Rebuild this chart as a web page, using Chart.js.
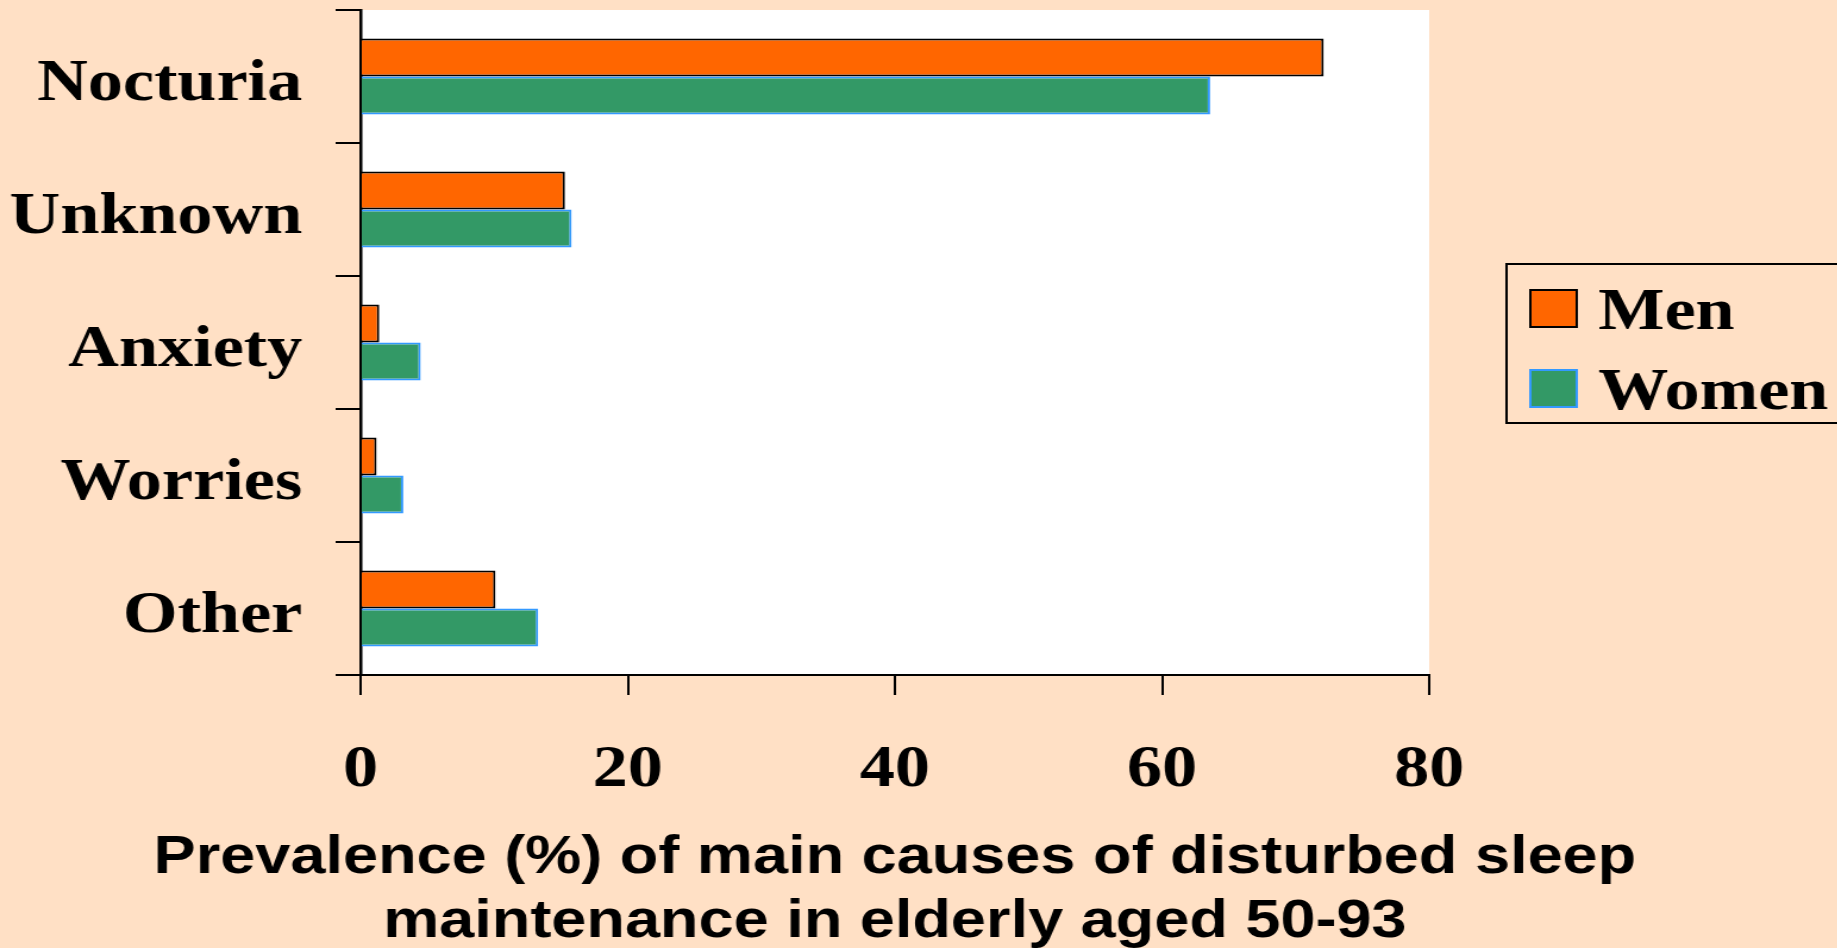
<!DOCTYPE html>
<html>
<head>
<meta charset="utf-8">
<script src="https://cdn.jsdelivr.net/npm/chart.js@4.4.0/dist/chart.umd.min.js"></script>
<style>
    html, body {
        margin: 0;
        padding: 0;
        background: #FFE0C5;
        overflow: hidden;
    }
    /* the source picture is stretched sideways, so the canvas is too */
    #chart {
        display: block;
        transform: scaleX(1.19);
        transform-origin: 0 0;
    }
</style>
</head>
<body>
<canvas id="chart" width="1544" height="948"></canvas>
<script>
// data
var categories = ["Nocturia", "Unknown", "Anxiety", "Worries", "Other"];
var menValues = [72.1, 15.3, 1.4, 1.2, 10.1];
var womenValues = [63.6, 15.8, 4.5, 3.2, 13.3];
var xTicks = [0, 20, 40, 60, 80];
var axisTitle = ["Prevalence (%) of main causes of disturbed sleep",
    "maintenance in elderly aged 50-93"];

var serif = "'Liberation Serif', 'Times New Roman', serif";

// white plot area
var plotBackground = {
    id: "plotBackground",
    beforeDraw: function (chart) {
        var a = chart.chartArea;
        var ctx = chart.ctx;
        ctx.save();
        ctx.fillStyle = "#FFFFFF";
        ctx.fillRect(a.left, a.top, a.right - a.left, a.bottom - a.top);
        ctx.restore();
    }
};

// axis title, wider than the plot so drawn here (no squeezing)
var wideTitle = {
    id: "wideTitle",
    afterDraw: function (chart) {
        var a = chart.chartArea;
        var ctx = chart.ctx;
        ctx.save();
        ctx.fillStyle = "#000000";
        ctx.font = "bold 53px 'Liberation Sans', Arial, sans-serif";
        ctx.textAlign = "center";
        ctx.textBaseline = "alphabetic";
        for (var i = 0; i < axisTitle.length; i++) {
            ctx.fillText(axisTitle[i], (a.left + a.right) / 2, 873 + i * 64);
        }
        ctx.restore();
    }
};

// boxed legend on the right
var boxLegend = {
    id: "boxLegend",
    afterDraw: function (chart) {
        var ctx = chart.ctx;
        var sets = chart.data.datasets;
        ctx.save();
        ctx.lineWidth = 2;
        ctx.strokeStyle = "#000000";
        ctx.strokeRect(1266, 264, 400, 159);
        ctx.font = "bold 59px " + serif;
        ctx.textBaseline = "alphabetic";
        for (var i = 0; i < sets.length; i++) {
            var top = 290 + i * 80;
            ctx.fillStyle = sets[i].backgroundColor;
            ctx.fillRect(1286, top, 39, 37);
            ctx.strokeStyle = sets[i].borderColor;
            ctx.strokeRect(1286, top, 39, 37);
            ctx.fillStyle = "#000000";
            ctx.fillText(sets[i].label, 1343, top + 39);
        }
        ctx.restore();
    }
};

new Chart(document.getElementById("chart").getContext("2d"), {
    type: "bar",
    data: {
        labels: categories,
        datasets: [
            {
                label: "Men",
                data: menValues,
                backgroundColor: "#FF6600",
                borderColor: "#000000",
                borderWidth: 2,
                categoryPercentage: 0.57,
                barPercentage: 1.0
            },
            {
                label: "Women",
                data: womenValues,
                backgroundColor: "#339966",
                borderColor: "#3399FF",
                borderWidth: 2,
                categoryPercentage: 0.57,
                barPercentage: 1.0
            }
        ]
    },
    options: {
        indexAxis: "y",
        responsive: false,
        animation: false,
        devicePixelRatio: 1,
        layout: {
            padding: {top: 10, right: 343, left: 0, bottom: 0}
        },
        plugins: {
            legend: {display: false},
            tooltip: {enabled: false}
        },
        scales: {
            x: {
                min: 0,
                max: 80,
                afterFit: function (scale) {
                    scale.height = 273;
                    scale.paddingLeft = 0;
                    scale.paddingRight = 0;
                },
                afterBuildTicks: function (scale) {
                    scale.ticks = xTicks.map(function (v) {
                        return {value: v};
                    });
                },
                border: {display: true, color: "#000000", width: 2},
                grid: {
                    drawOnChartArea: false,
                    color: "#000000",
                    lineWidth: 2,
                    tickLength: 20
                },
                ticks: {
                    color: "#000000",
                    padding: 40,
                    maxRotation: 0,
                    font: {family: serif, size: 59, weight: "bold"}
                }
            },
            y: {
                afterFit: function (scale) {
                    scale.width = 303;
                    scale.paddingTop = 0;
                    scale.paddingBottom = 0;
                },
                border: {display: true, color: "#000000", width: 2.5},
                grid: {
                    offset: true,
                    drawOnChartArea: false,
                    color: "#000000",
                    lineWidth: 2,
                    tickLength: 21
                },
                ticks: {
                    color: "#000000",
                    padding: 28,
                    labelOffset: 8,
                    font: {family: serif, size: 59, weight: "bold"}
                }
            }
        }
    },
    plugins: [plotBackground, wideTitle, boxLegend]
});
</script>
</body>
</html>
